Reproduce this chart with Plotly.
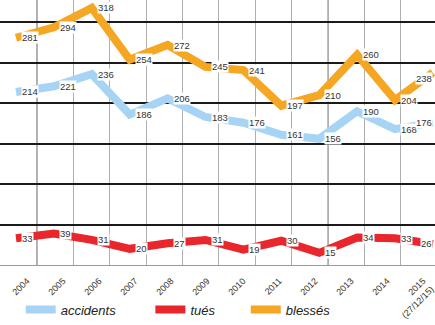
import plotly.graph_objects as go

years = ["2004", "2005", "2006", "2007", "2008", "2009", "2010", "2011", "2012", "2013", "2014", "2015<br>(27/12/15)"]
accidents = [214, 221, 236, 186, 206, 183, 176, 161, 156, 190, 168, 176]
tues = [33, 39, 31, 20, 27, 31, 19, 30, 15, 34, 33, 26]
blesses = [281, 294, 318, 254, 272, 245, 241, 197, 210, 260, 204, 238]

idx = list(range(len(years)))
series = [
    ("accidents", accidents, "#a7d4f4", "legend"),
    ("tués", tues, "#e8262b", "legend2"),
    ("blessés", blesses, "#f5a623", "legend3"),
]

GRID0, GRIDSTEP = 0.554, 0.96

fig = go.Figure()
# invisible trace on xaxis2 so the tick-label axis is rendered
fig.add_trace(go.Scatter(x=[idx[0]], y=[accidents[0]], xaxis="x2", mode="markers",
                         marker=dict(opacity=0), showlegend=False, hoverinfo="skip"))
for name, vals, col, lg in series:
    fig.add_trace(go.Scatter(x=idx, y=vals, mode="lines", name=name,
                             line=dict(color=col, width=8), legend=lg))

ann = []
last = idx[-1]
for name, vals, col, lg in series:
    for i, v in zip(idx, vals):
        is_last = (i == last)
        ann.append(dict(x=i, y=v, xref="x", yref="y", text=str(v), showarrow=False,
                        xanchor="right" if is_last else "left", yanchor="middle",
                        xshift=0 if is_last else 5,
                        yshift=-6 if (is_last and name == "blessés") else 0,
                        bgcolor="white", borderpad=0,
                        font=dict(family="Liberation Sans, Arial", size=9.5, color="#333")))

# two darker vertical grid lines seen in the reference
shapes = [dict(type="line", xref="x", yref="paper", x0=GRID0 + k * GRIDSTEP,
               x1=GRID0 + k * GRIDSTEP, y0=0, y1=1, layer="below",
               line=dict(color="#666", width=1)) for k in (0, 8)]

leg_common = dict(orientation="h", yanchor="middle", y=-0.168, xanchor="left",
                  bgcolor="rgba(0,0,0,0)",
                  font=dict(family="Liberation Sans, Arial", size=13, color="#222",
                            style="italic"))

fig.update_layout(
    width=435, height=325,
    margin=dict(l=0, r=0, t=0, b=53),
    paper_bgcolor="white", plot_bgcolor="white",
    showlegend=True,
    annotations=ann,
    shapes=shapes,
    legend=dict(x=0.0476, **leg_common),
    legend2=dict(x=0.3457, **leg_common),
    legend3=dict(x=0.565, **leg_common),
    xaxis=dict(range=[-0.422, 11.055], tickmode="linear", tick0=GRID0, dtick=GRIDSTEP,
               showgrid=True, gridcolor="#b0b0b0", gridwidth=1,
               showticklabels=False, ticks="", zeroline=False,
               showline=True, linecolor="#9a9a9a", linewidth=1),
    xaxis2=dict(range=[-0.75, 11.333], overlaying="x", anchor="y", side="bottom",
                tickmode="array", tickvals=idx, ticktext=years, tickangle=-45,
                showgrid=False, zeroline=False, ticks="", ticklabelstandoff=8,
                ticklabeloverflow="allow",
                tickfont=dict(family="Liberation Sans, Arial", size=9, color="#333")),
    yaxis=dict(range=[0, 327.7], dtick=50, showgrid=True, gridcolor="#1a1a1a",
               gridwidth=1.6, showticklabels=False, zeroline=False, ticks=""),
)

fig.write_html("out.html")
